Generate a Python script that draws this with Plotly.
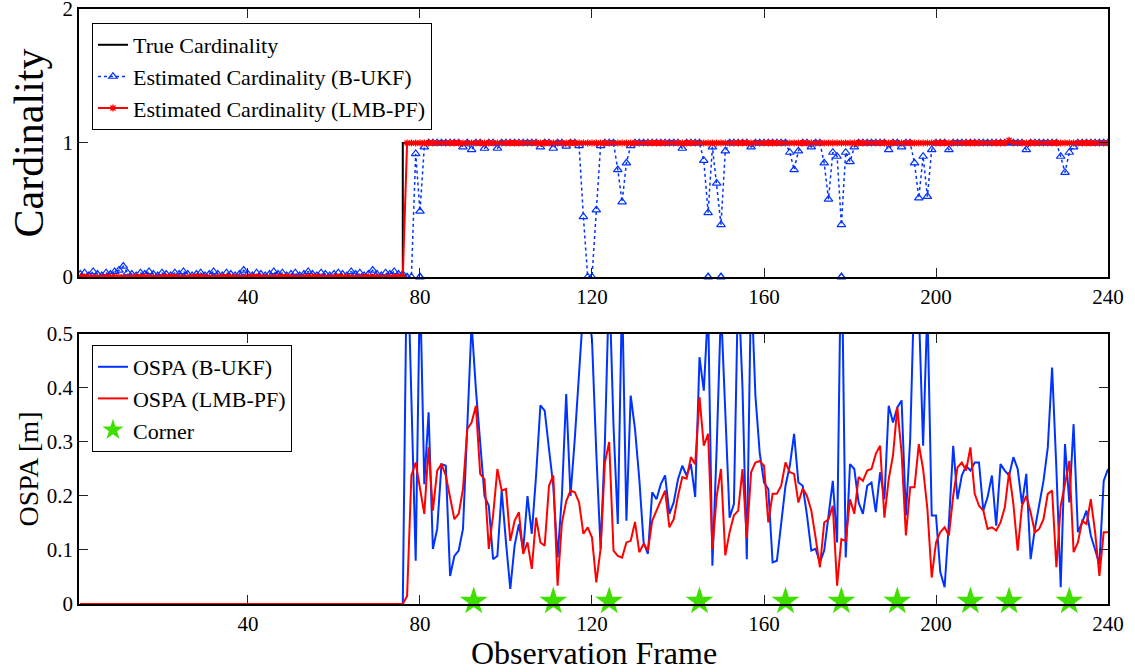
import plotly.graph_objects as go

FONT = "Liberation Serif"

frames = list(range(1, 241))
x_ticks = [40, 80, 120, 160, 200, 240]

# ---------- Cardinality (top panel) ----------
true_card = [
    0, 0, 0, 0, 0, 0, 0, 0, 0, 0, 0, 0, 0, 0, 0, 0, 0, 0, 0, 0,
    0, 0, 0, 0, 0, 0, 0, 0, 0, 0, 0, 0, 0, 0, 0, 0, 0, 0, 0, 0,
    0, 0, 0, 0, 0, 0, 0, 0, 0, 0, 0, 0, 0, 0, 0, 0, 0, 0, 0, 0,
    0, 0, 0, 0, 0, 0, 0, 0, 0, 0, 0, 0, 0, 0, 0, 1, 1, 1, 1, 1,
    1, 1, 1, 1, 1, 1, 1, 1, 1, 1, 1, 1, 1, 1, 1, 1, 1, 1, 1, 1,
    1, 1, 1, 1, 1, 1, 1, 1, 1, 1, 1, 1, 1, 1, 1, 1, 1, 1, 1, 1,
    1, 1, 1, 1, 1, 1, 1, 1, 1, 1, 1, 1, 1, 1, 1, 1, 1, 1, 1, 1,
    1, 1, 1, 1, 1, 1, 1, 1, 1, 1, 1, 1, 1, 1, 1, 1, 1, 1, 1, 1,
    1, 1, 1, 1, 1, 1, 1, 1, 1, 1, 1, 1, 1, 1, 1, 1, 1, 1, 1, 1,
    1, 1, 1, 1, 1, 1, 1, 1, 1, 1, 1, 1, 1, 1, 1, 1, 1, 1, 1, 1,
    1, 1, 1, 1, 1, 1, 1, 1, 1, 1, 1, 1, 1, 1, 1, 1, 1, 1, 1, 1,
    1, 1, 1, 1, 1, 1, 1, 1, 1, 1, 1, 1, 1, 1, 1, 1, 1, 1, 1, 1,
]

card_bukf = [
    0.02, 0.03, 0.01, 0.04, 0.02, 0.01, 0.03, 0.02, 0.04, 0.05, 0.08, 0.03, 0.02, 0.01, 0.03, 0.02, 0.04, 0.02, 0.01, 0.03,
    0.02, 0.01, 0.03, 0.02, 0.04, 0.02, 0.01, 0.02, 0.03, 0.01, 0.02, 0.04, 0.02, 0.01, 0.03, 0.02, 0.01, 0.02, 0.05, 0.02,
    0.01, 0.03, 0.02, 0.01, 0.02, 0.04, 0.02, 0.03, 0.01, 0.02, 0.03, 0.01, 0.02, 0.04, 0.02, 0.01, 0.03, 0.02, 0.01, 0.02,
    0.03, 0.02, 0.01, 0.04, 0.02, 0.03, 0.01, 0.02, 0.05, 0.02, 0.01, 0.03, 0.02, 0.04, 0.02, 0.02, 0.0, 0.0, 0.92, 0.49,
    0.97, 1.0, 1.0, 1.0, 1.0, 1.0, 1.0, 1.0, 1.0, 0.97, 1.0, 0.95, 1.0, 1.0, 0.96, 1.0, 1.0, 0.96, 1.0, 1.0,
    1.0, 1.0, 1.0, 1.0, 1.0, 1.0, 1.0, 0.97, 1.0, 1.0, 0.96, 1.0, 1.0, 0.975, 1.0, 1.0, 0.98, 0.45, 0.0, 0.0,
    0.5, 0.98, 1.0, 1.0, 1.0, 0.8, 0.56, 0.85, 0.98, 1.0, 1.0, 1.0, 1.0, 1.0, 1.0, 1.0, 1.0, 1.0, 1.0, 1.0,
    0.96, 1.0, 1.0, 1.0, 1.0, 0.87, 0.48, 0.97, 0.7, 0.39, 0.94, 1.0, 1.0, 1.0, 1.0, 1.0, 0.97, 1.0, 1.0, 1.0,
    1.0, 1.0, 1.0, 1.0, 1.0, 0.93, 0.8, 0.94, 1.0, 1.0, 0.97, 1.0, 1.0, 0.85, 0.58, 0.93, 0.9, 0.39, 0.93, 0.86,
    0.97, 1.0, 1.0, 1.0, 1.0, 1.0, 1.0, 1.0, 0.95, 1.0, 1.0, 0.97, 1.0, 1.0, 0.85, 0.59, 0.9, 0.6, 0.95, 1.0,
    1.0, 1.0, 0.95, 1.0, 1.0, 1.0, 1.0, 1.0, 1.0, 1.0, 1.0, 1.0, 1.0, 1.0, 1.0, 1.0, 1.0, 1.0, 1.0, 1.0,
    0.95, 1.0, 1.0, 1.0, 1.0, 1.0, 1.0, 1.0, 0.9, 0.78, 0.93, 0.97, 1.0, 1.0, 1.0, 1.0, 1.0, 1.0, 1.0, 1.0,
]

# frames where the B-UKF estimate also shows a marker at zero
bukf_zero_frames = [80, 147, 150, 178]
bukf_zero_values = [0, 0, 0, 0]

card_lmbpf = [
    0, 0, 0, 0, 0, 0, 0, 0, 0, 0, 0, 0, 0, 0, 0, 0, 0, 0, 0, 0,
    0, 0, 0, 0, 0, 0, 0, 0, 0, 0, 0, 0, 0, 0, 0, 0, 0, 0, 0, 0,
    0, 0, 0, 0, 0, 0, 0, 0, 0, 0, 0, 0, 0, 0, 0, 0, 0, 0, 0, 0,
    0, 0, 0, 0, 0, 0, 0, 0, 0, 0, 0, 0, 0, 0, 0, 0, 1, 1, 1, 1,
    1, 1, 1, 1, 1, 1, 1, 1, 1, 1, 1, 1, 1, 1, 1, 1, 1, 1, 1, 1,
    1, 1, 1, 1, 1, 1, 1, 1, 1, 1, 1, 1, 1, 1, 1, 1, 1, 1, 1, 1,
    1, 1, 1, 1, 1, 1, 1, 1, 1, 1, 1, 1, 1, 1, 1, 1, 1, 1, 1, 1,
    1, 1, 1, 1, 1, 1, 1, 1, 1, 1, 1, 1, 1, 1, 1, 1, 1, 1, 1, 1,
    1, 1, 1, 1, 1, 1, 1, 1, 1, 1, 1, 1, 1, 1, 1, 1, 1, 1, 1, 1,
    1, 1, 1, 1, 1, 1, 1, 1, 1, 1, 1, 1, 1, 1, 1, 1, 1, 1, 1, 1,
    1, 1, 1, 1, 1, 1, 1, 1, 1, 1, 1, 1, 1, 1, 1, 1, 1.02, 1, 1, 1,
    1, 1, 1, 1, 1, 1, 1, 1, 1, 1, 1, 1, 1, 1, 1, 1, 1, 1, 1, 1,
]

# ---------- OSPA (bottom panel) ----------
ospa_bukf = [
    0, 0, 0, 0, 0, 0, 0, 0, 0, 0, 0, 0, 0, 0, 0, 0, 0, 0, 0, 0,
    0, 0, 0, 0, 0, 0, 0, 0, 0, 0, 0, 0, 0, 0, 0, 0, 0, 0, 0, 0,
    0, 0, 0, 0, 0, 0, 0, 0, 0, 0, 0, 0, 0, 0, 0, 0, 0, 0, 0, 0,
    0, 0, 0, 0, 0, 0, 0, 0, 0, 0, 0, 0, 0, 0, 0, 0, 0.68, 0.37, 0.08, 0.6,
    0.222, 0.355, 0.102, 0.139, 0.259, 0.256, 0.052, 0.089, 0.099, 0.139, 0.324, 0.52, 0.398, 0.3, 0.2, 0.182, 0.083, 0.089, 0.21, 0.114,
    0.028, 0.108, 0.148, 0.099, 0.2, 0.13, 0.238, 0.368, 0.358, 0.287, 0.219, 0.086, 0.2, 0.389, 0.2, 0.306, 0.417, 0.55, 0.56, 0.49,
    0.28, 0.102, 0.3, 0.6, 0.33, 0.148, 0.58, 0.154, 0.386, 0.324, 0.231, 0.114, 0.093, 0.207, 0.194, 0.222, 0.238, 0.167, 0.188, 0.231,
    0.256, 0.238, 0.259, 0.198, 0.457, 0.395, 0.55, 0.071, 0.29, 0.55, 0.355, 0.16, 0.185, 0.6, 0.4, 0.083, 0.6, 0.386, 0.28, 0.225,
    0.213, 0.077, 0.08, 0.151, 0.219, 0.256, 0.315, 0.225, 0.219, 0.164, 0.099, 0.102, 0.077, 0.099, 0.164, 0.228, 0.114, 0.7, 0.086, 0.259,
    0.25, 0.188, 0.167, 0.219, 0.225, 0.17, 0.244, 0.194, 0.367, 0.336, 0.364, 0.377, 0.164, 0.306, 0.6, 0.55, 0.293, 0.55, 0.164, 0.164,
    0.059, 0.031, 0.15, 0.293, 0.194, 0.238, 0.256, 0.247, 0.262, 0.262, 0.173, 0.198, 0.238, 0.145, 0.259, 0.247, 0.238, 0.272, 0.25, 0.185,
    0.241, 0.083, 0.139, 0.182, 0.228, 0.29, 0.438, 0.25, 0.031, 0.296, 0.188, 0.333, 0.133, 0.151, 0.173, 0.127, 0.102, 0.074, 0.228, 0.25,
]

ospa_lmbpf = [
    0, 0, 0, 0, 0, 0, 0, 0, 0, 0, 0, 0, 0, 0, 0, 0, 0, 0, 0, 0,
    0, 0, 0, 0, 0, 0, 0, 0, 0, 0, 0, 0, 0, 0, 0, 0, 0, 0, 0, 0,
    0, 0, 0, 0, 0, 0, 0, 0, 0, 0, 0, 0, 0, 0, 0, 0, 0, 0, 0, 0,
    0, 0, 0, 0, 0, 0, 0, 0, 0, 0, 0, 0, 0, 0, 0, 0, 0.015, 0.238, 0.262, 0.213,
    0.167, 0.29, 0.173, 0.247, 0.259, 0.238, 0.195, 0.157, 0.167, 0.213, 0.324, 0.336, 0.367, 0.241, 0.231, 0.102, 0.164, 0.25, 0.21, 0.213,
    0.117, 0.154, 0.17, 0.093, 0.114, 0.065, 0.16, 0.114, 0.108, 0.219, 0.238, 0.034, 0.15, 0.19, 0.21, 0.207, 0.188, 0.13, 0.142, 0.123,
    0.04, 0.102, 0.262, 0.3, 0.099, 0.089, 0.086, 0.114, 0.117, 0.152, 0.096, 0.111, 0.099, 0.154, 0.173, 0.191, 0.21, 0.142, 0.157, 0.2,
    0.235, 0.232, 0.272, 0.259, 0.383, 0.293, 0.315, 0.102, 0.2, 0.25, 0.09, 0.133, 0.164, 0.173, 0.25, 0.123, 0.244, 0.262, 0.265, 0.256,
    0.151, 0.204, 0.204, 0.219, 0.262, 0.244, 0.241, 0.188, 0.214, 0.2, 0.173, 0.123, 0.068, 0.151, 0.157, 0.182, 0.034, 0.12, 0.117, 0.194,
    0.167, 0.235, 0.228, 0.247, 0.25, 0.278, 0.293, 0.16, 0.231, 0.275, 0.364, 0.28, 0.127, 0.216, 0.216, 0.296, 0.25, 0.176, 0.049, 0.114,
    0.133, 0.142, 0.127, 0.2, 0.253, 0.262, 0.247, 0.29, 0.204, 0.182, 0.173, 0.139, 0.142, 0.136, 0.151, 0.179, 0.244, 0.185, 0.099, 0.182,
    0.2, 0.17, 0.133, 0.139, 0.157, 0.204, 0.21, 0.068, 0.182, 0.222, 0.265, 0.096, 0.114, 0.154, 0.148, 0.194, 0.133, 0.052, 0.133, 0.133,
]

corner_frames = [92.5, 111, 124, 145, 165, 178, 191, 208, 217, 231]
corner_values = [0.005, 0.005, 0.005, 0.005, 0.005, 0.005, 0.005, 0.005, 0.005, 0.005]

BLUE = "#0033ff"
RED = "#ff0000"
GREEN = "#3fe000"

fig = go.Figure()

# top panel
fig.add_trace(go.Scatter(
    x=frames, y=true_card, name="True Cardinality", mode="lines",
    line=dict(color="black", width=2, shape="hv"), xaxis="x", yaxis="y", legend="legend"))
fig.add_trace(go.Scatter(
    x=frames, y=card_bukf, name="Estimated Cardinality (B-UKF)", mode="lines+markers",
    line=dict(color=BLUE, width=1.5, dash="dot"),
    marker=dict(symbol="triangle-up-open", size=7.5, color=BLUE, line=dict(width=1.2, color=BLUE)),
    xaxis="x", yaxis="y", legend="legend", legendgroup="bukf"))
fig.add_trace(go.Scatter(
    x=bukf_zero_frames, y=bukf_zero_values, name="Estimated Cardinality (B-UKF)", mode="markers",
    marker=dict(symbol="triangle-up-open", size=7.5, color=BLUE, line=dict(width=1.5, color=BLUE)),
    xaxis="x", yaxis="y", legend="legend", legendgroup="bukf", showlegend=False, cliponaxis=False))
fig.add_trace(go.Scatter(
    x=frames, y=card_lmbpf, name="Estimated Cardinality (LMB-PF)", mode="lines+markers",
    line=dict(color=RED, width=2),
    marker=dict(symbol="asterisk-open", size=6, color=RED, line=dict(width=1.3, color=RED)),
    xaxis="x", yaxis="y", legend="legend"))

# bottom panel
fig.add_trace(go.Scatter(
    x=frames, y=ospa_bukf, name="OSPA (B-UKF)", mode="lines",
    line=dict(color=BLUE, width=2), xaxis="x2", yaxis="y2", legend="legend2"))
fig.add_trace(go.Scatter(
    x=frames, y=ospa_lmbpf, name="OSPA (LMB-PF)", mode="lines",
    line=dict(color=RED, width=2), xaxis="x2", yaxis="y2", legend="legend2"))
fig.add_trace(go.Scatter(
    x=corner_frames, y=corner_values, name="Corner", mode="markers",
    marker=dict(symbol="star", size=21, color=GREEN, line=dict(width=0)),
    xaxis="x2", yaxis="y2", legend="legend2", cliponaxis=False))

axis_common = dict(
    showline=True, linecolor="black", linewidth=1.5, mirror="allticks",
    ticks="inside", ticklen=9, tickwidth=1.3, tickcolor="#222222",
    showgrid=False, zeroline=False, ticklabeloverflow="allow", automargin=False,
    tickfont=dict(family=FONT, size=21, color="black"),
)

fig.update_layout(
    width=1135, height=672,
    margin=dict(l=79, r=27, t=9, b=68, autoexpand=False),
    paper_bgcolor="white", plot_bgcolor="white",
    font=dict(family=FONT, color="black"),
    xaxis=dict(domain=[0, 1], anchor="y", range=[0.7, 240], tickvals=x_ticks, **axis_common),
    yaxis=dict(domain=[0.5496, 1], anchor="x", range=[0, 2], tickvals=[0, 1, 2],
               title=dict(text="Cardinality", font=dict(family=FONT, size=42), standoff=6),
               **axis_common),
    xaxis2=dict(domain=[0, 1], anchor="y2", range=[0.7, 240], tickvals=x_ticks, **axis_common),
    yaxis2=dict(domain=[0, 0.4538], anchor="x2", range=[0, 0.5],
                tickvals=[0, 0.1, 0.2, 0.3, 0.4, 0.5], ticktext=["0", "0.1", "0.2", "0.3", "0.4", "0.5"],
                title=dict(text="OSPA [m]", font=dict(family=FONT, size=28), standoff=0),
                **axis_common),
    legend=dict(x=0.0126, y=0.9765, xanchor="left", yanchor="top",
                bordercolor="black", borderwidth=1, bgcolor="white",
                font=dict(family=FONT, size=22), tracegroupgap=0, itemwidth=30),
    legend2=dict(x=0.0126, y=0.4353, xanchor="left", yanchor="top",
                 bordercolor="black", borderwidth=1, bgcolor="white",
                 font=dict(family=FONT, size=22), tracegroupgap=0, itemwidth=30),
    annotations=[dict(text="Observation Frame", xref="paper", yref="paper",
                      x=0.5, y=-68 / 595, xanchor="center", yanchor="bottom", yshift=0,
                      showarrow=False, borderpad=0,
                      font=dict(family=FONT, size=32, color="black"))],
    showlegend=True,
)

fig.write_html("out.html", config={"displayModeBar": False},
               post_script="document.body.style.margin='0px';")
